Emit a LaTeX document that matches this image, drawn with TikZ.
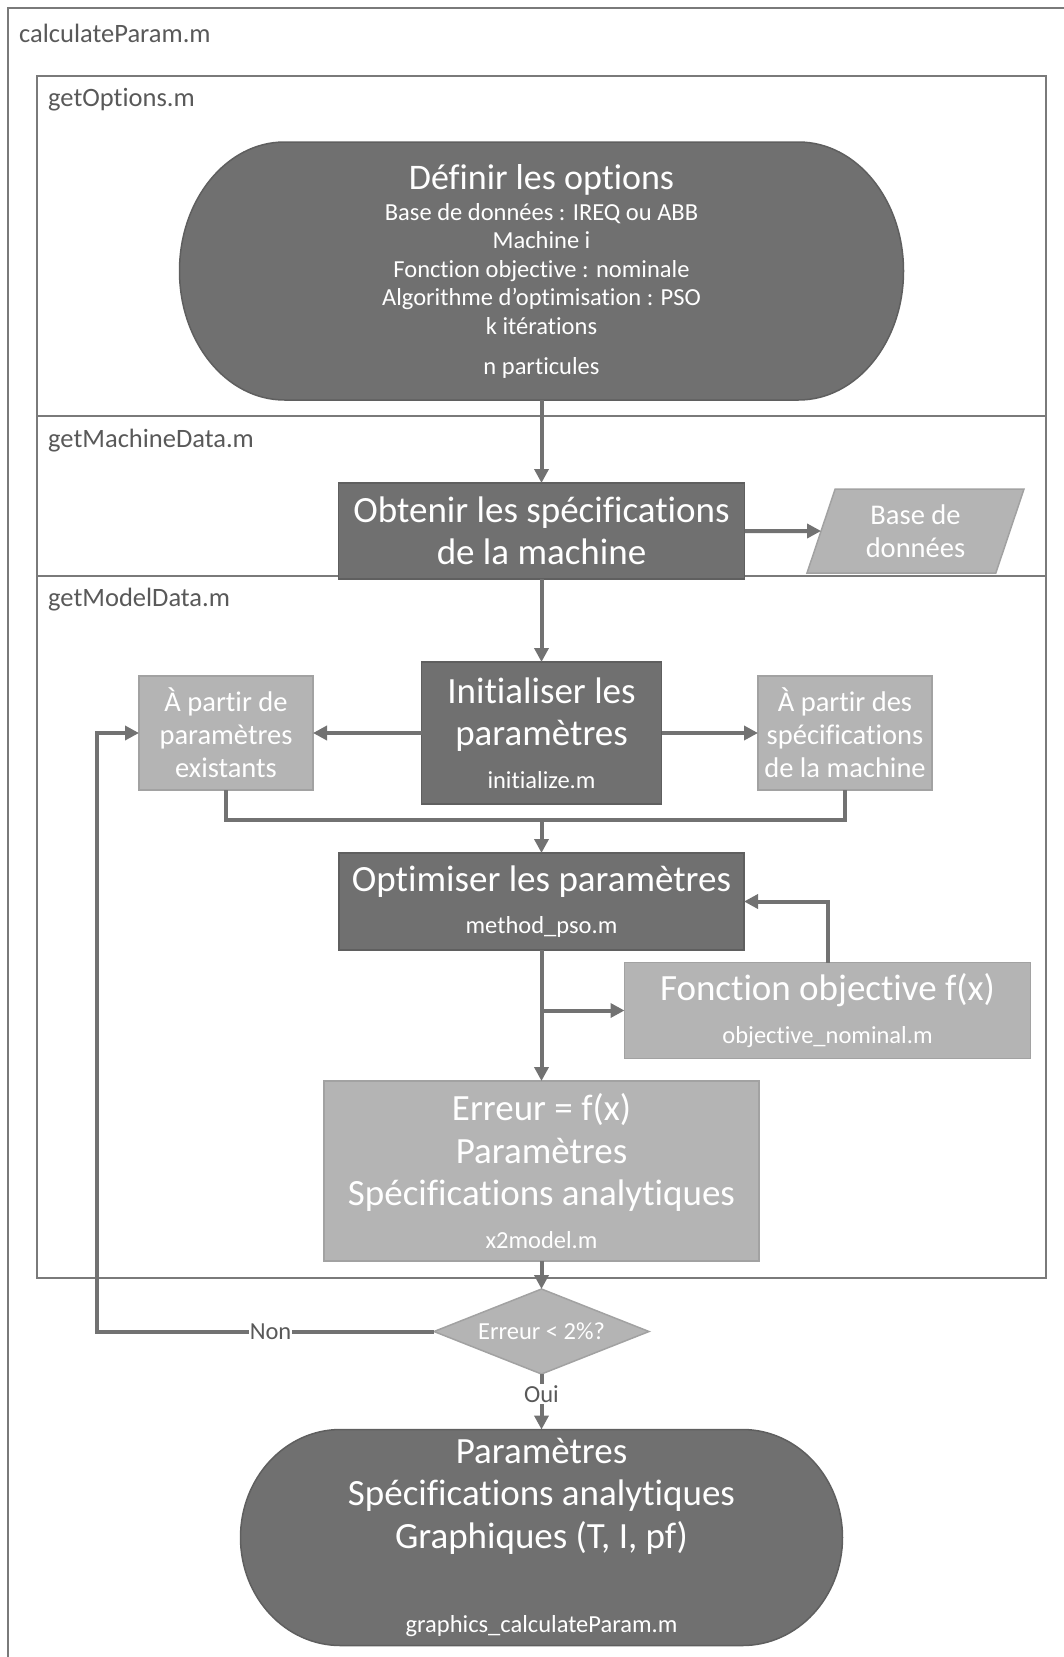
\documentclass[tikz,border=0pt]{standalone}
\usepackage{fontspec}
\setmainfont{Carlito}[Ligatures={NoCommon,NoContextual},Contextuals=NoAlternate,RawFeature={-liga;-clig;-calt;-dlig;-rlig}]
\usetikzlibrary{arrows.meta,calc,positioning,shapes.geometric,backgrounds}

\definecolor{darkfill}{HTML}{707070}
\definecolor{darkedge}{HTML}{5F5F5F}
\definecolor{lightfill}{HTML}{B4B4B4}
\definecolor{lightedge}{HTML}{A2A2A2}
\definecolor{linecol}{HTML}{727272}
\definecolor{framecol}{HTML}{7A7A7A}
\definecolor{labelcol}{HTML}{595959}

\newcommand\fbig{\fontsize{37}{42.5}\selectfont}
\newcommand\fmid{\fontsize{28.5}{33}\selectfont}
\newcommand\fsmall{\fontsize{24.5}{28.5}\selectfont}
\newcommand\ftitle{\fontsize{36}{40}\selectfont}
\newcommand\flabel{\fontsize{26.5}{30}\selectfont}

\newcommand\stadiumfill[3]{%
  \begin{scope}[on background layer]
    \filldraw[fill=darkfill,draw=darkedge,line width=1.5pt]
      ([xshift=#2]#1.north west) -- ([xshift=-#2]#1.north east)
      arc[start angle=90,end angle=-90,x radius=#2,y radius=#3]
      -- ([xshift=#2]#1.south west)
      arc[start angle=270,end angle=90,x radius=#2,y radius=#3] -- cycle;
  \end{scope}}

\begin{document}
\begin{tikzpicture}[x=1pt,y=1pt,
  box/.style={rectangle,inner sep=0pt,outer sep=0pt,align=center,text=white,line width=1.5pt},
  darkbox/.style={box,fill=darkfill,draw=darkedge,font=\fbig},
  lightbox/.style={box,fill=lightfill,draw=lightedge,font=\fmid},
  termbox/.style={box,font=\fsmall},
  arr/.style={draw=linecol,line width=4pt,-{Triangle[length=14pt,width=14pt]}},
  conn/.style={draw=linecol,line width=4pt},
  frame/.style={draw=framecol,line width=2pt},
  framelbl/.style={anchor=west,inner sep=0pt,text=labelcol,font=\flabel},
  choice/.style={fill=white,inner sep=1pt,text=labelcol,font=\fsmall}]
  \useasboundingbox (0,0) rectangle (1063,-1657);
  \draw[frame] (8,-8) rectangle (1090,-1690);
  \draw[frame] (37,-76) rectangle (1046,-416);
  \draw[frame] (37,-416) rectangle (1046,-576);
  \draw[frame] (37,-576) rectangle (1046,-1278);
  \node[framelbl] (calcLbl) at (19,-33) {calculateParam.m};
  \node[framelbl] (optLbl) at (48,-100) {getOptions.m};
  \node[framelbl] (machLbl) at (48,-441) {getMachineData.m};
  \node[framelbl] (modelLbl) at (48,-600) {getModelData.m};

  \node[termbox,minimum width=724,minimum height=258] (defOpt) at (541.5,-271)
    {{\ftitle Définir les options}\\[2.5pt]
     Base de données : IREQ ou ABB\\ Machine i\\ Fonction objective : nominale\\
     Algorithme d'optimisation : PSO\\ k itérations\\[11.5pt] n particules};
  \stadiumfill{defOpt}{105pt}{129pt}
  \node[darkbox,minimum width=406,minimum height=96] (getSpec) at (541.5,-531)
    {Obtenir les spécifications\\ de la machine};
  \node[lightbox,trapezium,trapezium left angle=62,trapezium right angle=118,
    trapezium stretches body,minimum width=217,minimum height=84] (dataBase) at (915.5,-531)
    {Base de\\ données};
  \node[darkbox,minimum width=240,minimum height=142] (initPar) at (541.5,-733)
    {Initialiser les\\ paramètres\\ {\fsmall initialize.m}};
  \node[lightbox,minimum width=174,minimum height=114] (fromPar) at (226,-733)
    {À partir de\\ paramètres\\ existants};
  \node[lightbox,minimum width=174,minimum height=114] (fromSpec) at (845,-733)
    {À partir des\\ spécifications\\ de la machine};
  \coordinate (merge) at (541.5,-820);
  \node[darkbox,minimum width=405,minimum height=97] (optPar) at (541.5,-901.5)
    {Optimiser les paramètres\\ {\fsmall method\_pso.m}};
  \node[lightbox,font=\fbig,minimum width=406,minimum height=96] (objFun) at (827.5,-1010.5)
    {Fonction objective f(x)\\ {\fsmall objective\_nominal.m}};
  \node[lightbox,font=\fbig,minimum width=435,minimum height=180] (errBox) at (541.5,-1171)
    {Erreur = f(x)\\ Paramètres\\ Spécifications analytiques\\ {\fsmall x2model.m}};
  \node[lightbox,diamond,aspect=2.5,font=\fsmall,minimum width=215,minimum height=85] (errTest) at (541.5,-1331.5)
    {Erreur < 2\%?};
  \coordinate (back) at (97,-1331.5);
  \node[termbox,font=\fbig,minimum width=602,minimum height=216] (result) at (541.5,-1537.5)
    {Paramètres\\ Spécifications analytiques\\ Graphiques (T, I, pf)\\[42pt]
     {\fsmall graphics\_calculateParam.m}};
  \stadiumfill{result}{100pt}{108pt}

  \draw[arr] (defOpt.south) -- (getSpec.north);
  \draw[arr] (getSpec) -- (dataBase);
  \draw[arr] (getSpec.south) -- (initPar.north);
  \draw[arr] (initPar) -- (fromPar);
  \draw[arr] (initPar) -- (fromSpec);
  \draw[conn] (fromPar.south) |- (merge) -| (fromSpec.south);
  \draw[arr] (merge) -- (optPar.north);
  \draw[arr] (objFun.north) |- (optPar.east);
  \draw[arr] (optPar.south) -- (errBox.north);
  \draw[arr] (optPar.south |- objFun.west) -- (objFun.west);
  \draw[arr] (errBox.south) -- (errTest.north);
  \draw[arr] (errTest.west) -- node[choice,pos=0.485]{Non} (back) |- (fromPar.west);
  \draw[arr] (errTest.south) -- node[choice,pos=0.36]{Oui} (result.north);
\end{tikzpicture}
\end{document}
